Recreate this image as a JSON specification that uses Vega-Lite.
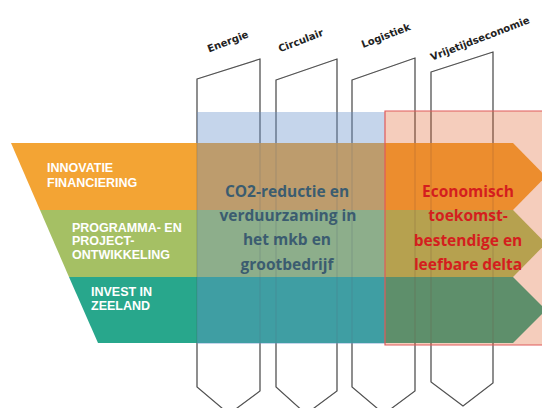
{
  "$schema": "https://vega.github.io/schema/vega-lite/v6.json",
  "width": 542,
  "height": 408,
  "padding": 0,
  "autosize": {"type": "fit", "contains": "padding"},
  "background": "white",
  "config": {"view": {"stroke": null}},
  "datasets": {
    "pillars": [
      {"p": "Energie", "i": 1, "x": 197, "y": 79},
      {"p": "Energie", "i": 2, "x": 260, "y": 59},
      {"p": "Energie", "i": 3, "x": 260, "y": 391},
      {"p": "Energie", "i": 4, "x": 229, "y": 414},
      {"p": "Energie", "i": 5, "x": 197, "y": 387},
      {"p": "Circulair", "i": 1, "x": 276, "y": 80},
      {"p": "Circulair", "i": 2, "x": 337, "y": 59},
      {"p": "Circulair", "i": 3, "x": 337, "y": 391},
      {"p": "Circulair", "i": 4, "x": 306, "y": 414},
      {"p": "Circulair", "i": 5, "x": 276, "y": 387},
      {"p": "Logistiek", "i": 1, "x": 352, "y": 80},
      {"p": "Logistiek", "i": 2, "x": 415, "y": 58},
      {"p": "Logistiek", "i": 3, "x": 415, "y": 391},
      {"p": "Logistiek", "i": 4, "x": 384, "y": 414},
      {"p": "Logistiek", "i": 5, "x": 352, "y": 387},
      {"p": "Vrijetijdseconomie", "i": 1, "x": 431, "y": 72},
      {"p": "Vrijetijdseconomie", "i": 2, "x": 493, "y": 52},
      {"p": "Vrijetijdseconomie", "i": 3, "x": 493, "y": 383},
      {"p": "Vrijetijdseconomie", "i": 4, "x": 463, "y": 406},
      {"p": "Vrijetijdseconomie", "i": 5, "x": 431, "y": 382}
    ],
    "bands": [
      {"band": "Innovatie", "i": 1, "x": 11, "y": 143},
      {"band": "Innovatie", "i": 2, "x": 513, "y": 143},
      {"band": "Innovatie", "i": 3, "x": 546, "y": 176.5},
      {"band": "Innovatie", "i": 4, "x": 513, "y": 210},
      {"band": "Innovatie", "i": 5, "x": 40, "y": 210},
      {"band": "Programma", "i": 1, "x": 40, "y": 210},
      {"band": "Programma", "i": 2, "x": 513, "y": 210},
      {"band": "Programma", "i": 3, "x": 546, "y": 243.5},
      {"band": "Programma", "i": 4, "x": 513, "y": 277},
      {"band": "Programma", "i": 5, "x": 69, "y": 277},
      {"band": "Invest", "i": 1, "x": 69, "y": 277},
      {"band": "Invest", "i": 2, "x": 513, "y": 277},
      {"band": "Invest", "i": 3, "x": 546, "y": 310},
      {"band": "Invest", "i": 4, "x": 513, "y": 343},
      {"band": "Invest", "i": 5, "x": 98, "y": 343}
    ],
    "regions": [
      {"name": "CO2", "x": 197, "x2": 385, "y": 112, "y2": 344},
      {"name": "Delta", "x": 385, "x2": 545, "y": 111, "y2": 345}
    ],
    "headers": [
      {"t": "Energie", "x": 228, "y": 42},
      {"t": "Circulair", "x": 301, "y": 41},
      {"t": "Logistiek", "x": 386, "y": 36},
      {"t": "Vrijetijdseconomie", "x": 480, "y": 39}
    ],
    "bandText": [
      {"t": "INNOVATIE", "x": 47, "y": 168},
      {"t": "FINANCIERING", "x": 47, "y": 183},
      {"t": "PROGRAMMA- EN", "x": 72, "y": 228},
      {"t": "PROJECT-", "x": 72, "y": 241},
      {"t": "ONTWIKKELING", "x": 72, "y": 255},
      {"t": "INVEST IN", "x": 91, "y": 292},
      {"t": "ZEELAND", "x": 91, "y": 306}
    ],
    "centerText": [
      {"g": "co2", "t": "CO2-reductie en", "x": 287, "y": 192},
      {"g": "co2", "t": "verduurzaming in", "x": 288, "y": 216},
      {"g": "co2", "t": "het mkb en", "x": 287, "y": 240},
      {"g": "co2", "t": "grootbedrijf", "x": 287, "y": 265},
      {"g": "delta", "t": "Economisch", "x": 468, "y": 192},
      {"g": "delta", "t": "toekomst-", "x": 468, "y": 216},
      {"g": "delta", "t": "bestendige en", "x": 468, "y": 241},
      {"g": "delta", "t": "leefbare delta", "x": 468, "y": 265}
    ]
  },
  "encoding": {
    "x": {"field": "x", "type": "quantitative", "scale": {"domain": [0, 542], "nice": false, "zero": false}, "axis": null},
    "y": {"field": "y", "type": "quantitative", "scale": {"domain": [0, 408], "reverse": true, "nice": false, "zero": false}, "axis": null}
  },
  "layer": [
    {
      "data": {"name": "pillars"},
      "mark": {"type": "line", "interpolate": "linear-closed", "stroke": "#5a5a5a", "strokeWidth": 1.2, "clip": true},
      "encoding": {"detail": {"field": "p"}, "order": {"field": "i", "type": "quantitative"}}
    },
    {
      "data": {"name": "bands"},
      "mark": {"type": "line", "interpolate": "linear-closed", "strokeWidth": 0, "clip": true},
      "encoding": {
        "detail": {"field": "band"},
        "order": {"field": "i", "type": "quantitative"},
        "fill": {"field": "band", "type": "nominal", "scale": {"domain": ["Innovatie", "Programma", "Invest"], "range": ["#f3a434", "#a5c064", "#28a78c"]}, "legend": null},
        "stroke": {"value": null}
      }
    },
    {
      "data": {"name": "pillars"},
      "mark": {"type": "line", "interpolate": "linear-closed", "stroke": "#3a3a3a", "strokeWidth": 1, "opacity": 0.25, "clip": true},
      "encoding": {"detail": {"field": "p"}, "order": {"field": "i", "type": "quantitative"}}
    },
    {
      "data": {"name": "regions"},
      "transform": [{"filter": "datum.name === 'CO2'"}],
      "mark": {"type": "rect", "fill": "#6791cb", "fillOpacity": 0.38, "clip": true},
      "encoding": {"x2": {"field": "x2"}, "y2": {"field": "y2"}}
    },
    {
      "data": {"name": "regions"},
      "transform": [{"filter": "datum.name === 'Delta'"}],
      "mark": {"type": "rect", "fill": "#de5820", "fillOpacity": 0.3, "stroke": "#e05a5a", "strokeWidth": 1.2, "clip": true},
      "encoding": {"x2": {"field": "x2"}, "y2": {"field": "y2"}}
    },
    {
      "data": {"name": "headers"},
      "mark": {"type": "text", "font": "DejaVu Sans", "fontWeight": "bold", "fontSize": 10, "angle": -21, "align": "center", "baseline": "middle", "fill": "#222222"},
      "encoding": {"text": {"field": "t"}}
    },
    {
      "data": {"name": "bandText"},
      "mark": {"type": "text", "font": "Liberation Sans", "fontWeight": "bold", "fontSize": 12.5, "align": "left", "baseline": "middle", "fill": "#ffffff"},
      "encoding": {"text": {"field": "t"}}
    },
    {
      "data": {"name": "centerText"},
      "transform": [{"filter": "datum.g === 'co2'"}],
      "mark": {"type": "text", "font": "Open Sans", "fontWeight": "bold", "fontSize": 15.5, "align": "center", "baseline": "middle", "fill": "#3b5c70"},
      "encoding": {"text": {"field": "t"}}
    },
    {
      "data": {"name": "centerText"},
      "transform": [{"filter": "datum.g === 'delta'"}],
      "mark": {"type": "text", "font": "Open Sans", "fontWeight": "bold", "fontSize": 15.5, "align": "center", "baseline": "middle", "fill": "#d41e1e"},
      "encoding": {"text": {"field": "t"}}
    }
  ]
}
